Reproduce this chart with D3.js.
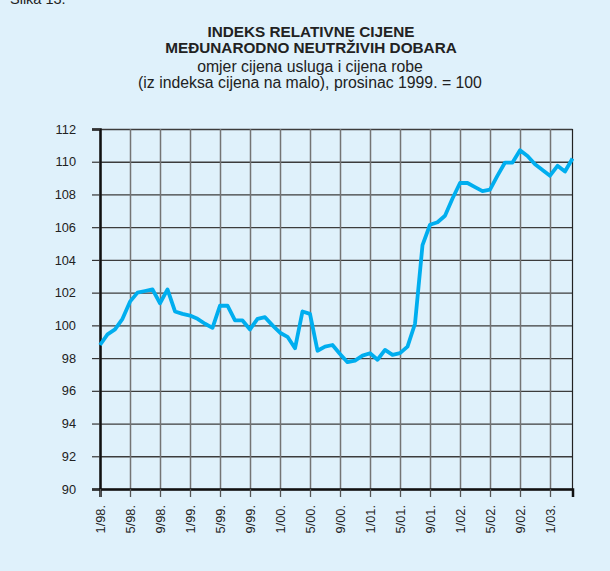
<!DOCTYPE html>
<html>
<head>
<meta charset="utf-8">
<script src="https://cdn.jsdelivr.net/npm/d3@7"></script>
<style>
  body { margin: 0; background: #dff1fb; }
  svg { display: block; font-family: "Liberation Sans", Arial, sans-serif; }
</style>
</head>
<body>
<div id="chart"></div>
<script>
// monthly index, 1/98 .. 4/03
var values = [
  98.8, 99.45, 99.75, 100.4, 101.45, 102.0, 102.1, 102.2, 101.35, 102.2, 100.85, 100.7,
  100.6, 100.4, 100.1, 99.85, 101.2, 101.2, 100.3, 100.3, 99.75, 100.4, 100.5, 100.0,
  99.55, 99.3, 98.6, 100.85, 100.7, 98.45, 98.7, 98.8, 98.25, 97.75, 97.85, 98.15,
  98.3, 97.9, 98.5, 98.2, 98.3, 98.7, 100.1, 104.9, 106.15, 106.3, 106.7, 107.75,
  108.7, 108.7, 108.45, 108.2, 108.3, 109.15, 109.95, 109.95, 110.7, 110.35, 109.85, 109.5,
  109.15, 109.75, 109.4, 110.2
];
var tickLabels = ["1/98.", "5/98.", "9/98.", "1/99.", "5/99.", "9/99.", "1/00.", "5/00.",
  "9/00.", "1/01.", "5/01.", "9/01.", "1/02.", "5/02.", "9/02.", "1/03."];
var yTicks = [90, 92, 94, 96, 98, 100, 102, 104, 106, 108, 110, 112];
var titleLines = ["INDEKS RELATIVNE CIJENE", "MEĐUNARODNO NEUTRŽIVIH DOBARA"];
var subLines = ["omjer cijena usluga i cijena robe", "(iz indeksa cijena na malo), prosinac 1999. = 100"];

var svgwidth = 610, svgheight = 571;
var margin = {top: 129, right: 37.5, bottom: 82, left: 100};
var width = svgwidth - margin.left - margin.right;
var height = svgheight - margin.top - margin.bottom;

var svg = d3.select("#chart").append("svg")
  .attr("width", svgwidth)
  .attr("height", svgheight);

svg.append("rect").attr("width", svgwidth).attr("height", svgheight).attr("fill", "#dff1fb");

svg.append("text")
  .attr("x", 10).attr("y", 4)
  .attr("font-size", 14.5).attr("fill", "#222")
  .text("Slika 13.");

// titles
svg.selectAll(".title").data(titleLines).enter().append("text")
  .attr("x", 311).attr("y", (d, i) => 37 + i * 15.7)
  .attr("text-anchor", "middle").attr("font-size", 15.3).attr("font-weight", "bold").attr("fill", "#222")
  .text(d => d);
svg.selectAll(".sub").data(subLines).enter().append("text")
  .attr("x", 310).attr("y", (d, i) => 71.5 + i * 16.5)
  .attr("text-anchor", "middle").attr("font-size", 15.8).attr("fill", "#222")
  .text(d => d);

var g = svg.append("g").attr("transform", `translate(${margin.left},${margin.top})`);

var x = d3.scaleLinear().domain([0, values.length - 1]).range([0, width]);
var y = d3.scaleLinear().domain([90, 112]).range([height, 0]);

// horizontal grid
g.append("g")
  .call(d3.axisLeft(y).tickValues(yTicks).tickSize(-width).tickFormat(""))
  .call(a => a.select(".domain").remove())
  .selectAll("line").attr("stroke", "#3c3c3c").attr("stroke-width", 1.3);

// vertical grid
var tickIdx = tickLabels.map((d, i) => i * 4);
g.append("g")
  .attr("transform", `translate(0,${height})`)
  .call(d3.axisBottom(x).tickValues(tickIdx).tickSize(height).tickFormat(""))
  .call(a => a.select(".domain").remove())
  .attr("transform", "translate(0,0)")
  .selectAll("line").attr("stroke", "#747474").attr("stroke-width", 1.5);

// right border
g.append("line").attr("x1", width).attr("x2", width).attr("y1", 0).attr("y2", height)
  .attr("stroke", "#222").attr("stroke-width", 1.2);

// y axis
var yAxis = g.append("g")
  .call(d3.axisLeft(y).tickValues(yTicks).tickSize(8).tickPadding(16));
yAxis.select(".domain").attr("stroke", "#111").attr("stroke-width", 2.5);
yAxis.selectAll("line").attr("stroke", "#333").attr("stroke-width", 1.2);
yAxis.selectAll("text").attr("font-size", 12.8).attr("fill", "#222").attr("font-family", "Liberation Sans, Arial, sans-serif");

// x axis
var xAxis = g.append("g")
  .attr("transform", `translate(0,${height})`)
  .call(d3.axisBottom(x).tickValues(tickIdx).tickSize(8).tickFormat((d, i) => tickLabels[i]));
xAxis.select(".domain").attr("stroke", "#111").attr("stroke-width", 2.5);
xAxis.selectAll("line").attr("stroke", "#555").attr("stroke-width", 1.3);
xAxis.selectAll("text")
  .attr("font-size", 12.8).attr("fill", "#222").attr("font-family", "Liberation Sans, Arial, sans-serif")
  .attr("transform", "rotate(-90)")
  .attr("text-anchor", "end")
  .attr("x", -16).attr("y", 0).attr("dy", "0.35em");

// data line
g.append("path")
  .datum(values)
  .attr("fill", "none")
  .attr("stroke", "#00aeef")
  .attr("stroke-width", 3.8)
  .attr("stroke-linejoin", "round")
  .attr("d", d3.line().x((d, i) => x(i)).y(d => y(d)));
</script>
</body>
</html>
